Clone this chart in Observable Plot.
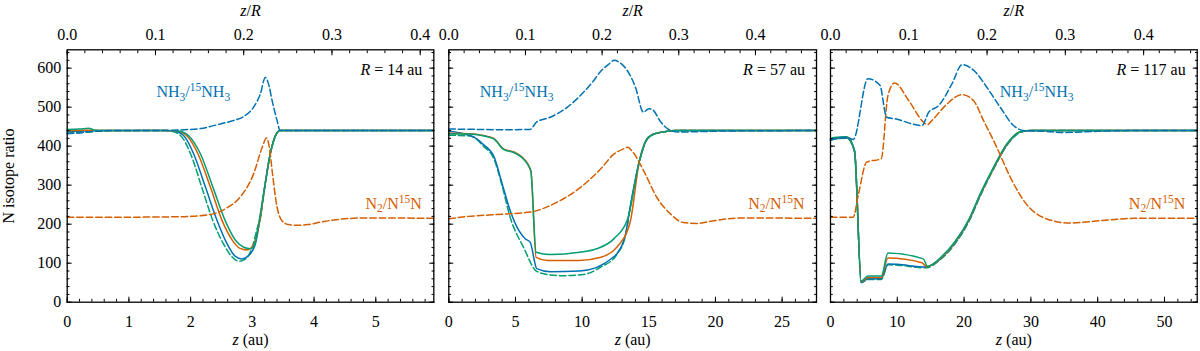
<!DOCTYPE html>
<html><head><meta charset="utf-8">
<script src="https://cdn.jsdelivr.net/npm/d3@7"></script>
<script src="https://cdn.jsdelivr.net/npm/@observablehq/plot@0.6"></script>
<style>
body{margin:0;background:#fff;}
#chart{position:relative;width:1200px;height:351px;}
#chart svg{position:absolute;top:0;overflow:visible;background:transparent !important;font-size:16px !important;}
#chart svg, #chart svg text, #chart svg tspan, #chart svg g{font-family:"Liberation Serif",serif !important;}
</style></head><body><div id="chart"></div>
<script>
const BLUE = "#0072B2", ORANGE = "#D55E00", GREEN = "#009E73";

// panel metadata
const panelRadiusLabel = [14, 57, 117];
const panelRadiusScale = [14.3, 57.5, 117.2];
const panelZMax = [5.94, 27.58, 54.9];
const yMax = 647;
const yMajorTicks = [0, 100, 200, 300, 400, 500, 600];
const xMajorTicks = [[0,1,2,3,4,5],[0,5,10,15,20,25],[0,10,20,30,40,50]];
const xMinorStep = [0.2, 1, 2];
const zrMajorTicks = [0, 0.1, 0.2, 0.3, 0.4, 0.5];
const yLabel = "N isotope ratio";
const nh3Label = "NH_{3}/^{15}NH_{3}";
const n2Label = "N_{2}/N^{15}N";

// ---- Panel 1 (R = 14 au) ----
const p1NH3 = [[0,432],[0.2,434],[0.45,438],[0.8,440],[1.5,440],[1.9,442],[2.16,445],[2.48,457],[2.7,466],[2.86,476],[3.02,500],[3.13,534],[3.21,576],[3.27,555],[3.32,517],[3.4,466],[3.45,440],[4.0,440],[5.94,440]];
const p1N2 = [[0,218],[1.0,218],[1.8,219],[2.32,225],[2.59,242],[2.8,269],[3.02,329],[3.16,397],[3.23,421],[3.28,392],[3.32,338],[3.4,244],[3.48,209],[3.58,199],[3.7,197],[3.9,199],[4.1,205],[4.32,211],[4.85,216],[5.94,215]];
const p1Blue = [[0,437],[0.3,439],[0.6,440],[1.6,440],[1.75,438],[1.9,425],[2.05,380],[2.24,295],[2.43,209],[2.59,150],[2.72,118],[2.83,111],[2.93,118],[3.05,150],[3.12,209],[3.2,295],[3.29,380],[3.37,425],[3.45,440],[5.94,440]];
const p1Orange = [[0,440],[0.3,441],[0.6,440],[1.6,440],[1.8,438],[1.95,425],[2.12,380],[2.32,295],[2.51,209],[2.68,158],[2.8,138],[2.91,134],[3.0,142],[3.06,165],[3.12,209],[3.2,295],[3.29,380],[3.37,425],[3.45,440],[5.94,440]];
const p1Green = [[0,443],[0.2,444],[0.35,446],[0.45,441],[0.6,440],[1.6,440],[1.82,438],[1.98,425],[2.16,380],[2.36,295],[2.56,209],[2.73,158],[2.86,141],[2.97,137],[3.04,150],[3.1,200],[3.2,295],[3.29,380],[3.37,425],[3.45,440],[5.94,440]];
const p1GreenDash = [[0,433],[0.3,436],[0.6,439],[1.6,440],[1.7,438],[1.85,425],[2.0,380],[2.18,295],[2.36,209],[2.53,150],[2.66,118],[2.78,105],[2.88,110],[3.0,142],[3.08,190],[3.13,215],[3.2,295],[3.29,380],[3.37,425],[3.45,440],[5.94,440]];

// ---- Panel 2 (R = 57 au) ----
const p2NH3 = [[0,444],[2,443],[4,442],[6.1,443],[6.6,462],[7.6,474],[8.9,500],[10.1,538],[10.8,565],[11.4,592],[12.0,610],[12.4,620],[12.9,612],[13.3,598],[13.7,575],[14.0,551],[14.6,487],[15.0,496],[15.3,493],[15.9,462],[16.4,445],[17.2,436],[18.5,437],[21,439],[27.58,440]];
const p2N2 = [[0,214],[1.5,220],[3.2,224],[6.1,231],[8.1,256],[9.9,295],[11.4,342],[12.4,380],[13.1,393],[13.4,397],[13.8,385],[14.6,338],[15.6,269],[16.6,227],[17.6,204],[18.6,202],[19.9,209],[21.9,216],[27.58,215]];
const p2Blue = [[0,438],[1.1,432],[1.9,423],[2.6,404],[3.4,372],[4.0,304],[4.6,235],[5.25,184],[5.75,162],[6.1,154],[6.6,86],[7.6,78],[9.8,80],[11.0,88],[11.4,94],[12.2,112],[12.6,124],[13.26,175],[13.6,244],[14.3,363],[14.8,415],[15.3,430],[16,436],[17,440],[27.58,440]];
const p2Orange = [[0,433],[1.5,432],[2.9,425],[3.4,419],[4.1,393],[4.9,385],[5.5,372],[6.15,338],[6.55,115],[7.4,107],[9.8,107],[11.4,115],[12.6,141],[13.6,205],[14.3,363],[14.8,415],[15.3,430],[16,436],[17,440],[27.58,440]];
const p2Green = [[0,431],[1.5,431],[2.9,424],[3.4,418],[4.1,392],[4.9,383],[5.5,370],[6.15,336],[6.55,128],[7.6,122],[9.8,128],[11.1,137],[12.4,163],[13.4,212],[14.3,363],[14.8,415],[15.3,430],[16,436],[17,440],[27.58,440]];
const p2GreenDash = [[0,428],[1.6,426],[2.6,400],[3.4,366],[4.0,298],[4.6,218],[5.6,141],[6.6,79],[7.6,70],[8.5,68],[10.1,71],[11.4,90],[12.6,122],[13.26,172],[13.6,240],[14.3,360],[14.8,413],[15.3,429],[16,436],[17,440],[27.58,440]];

// ---- Panel 3 (R = 117 au) ----
const p3NH3 = [[0,416],[0.45,419],[2.45,423],[3.4,417],[5.6,573],[7.4,556],[8.4,474],[9.7,470],[13.7,453],[14.7,487],[16.2,504],[18.2,560],[19.7,609],[21.7,590],[23.4,551],[25.4,500],[27.4,453],[28.9,440],[32,438],[35,435],[40,438],[45,440],[54.9,440]];
const p3N2 = [[0,218],[3.4,218],[4.2,278],[5.4,359],[7.6,368],[8.6,530],[9.6,562],[11.7,517],[13.9,462],[14.5,455],[15.2,466],[17.2,504],[19.7,532],[21.4,517],[22.9,466],[24.9,397],[26.9,321],[29.3,252],[32.3,214],[35.8,203],[40.4,209],[45.4,215],[54.9,215]];
const p3Blue = [[0,415],[0.5,419],[2.45,421],[3.6,387],[4.6,51],[5.6,60],[7.6,60],[8.6,98],[10,97],[14.2,90],[16.7,115],[18.7,154],[20.7,209],[22.5,278],[24.5,346],[26.5,406],[28.4,436],[30,440],[54.9,440]];
const p3Orange = [[0,417],[0.5,421],[2.45,423],[3.6,388],[4.6,53],[5.6,63],[7.6,63],[8.6,113],[13.7,101],[14.4,91],[16.7,116],[18.7,155],[20.7,210],[22.5,279],[24.5,347],[26.5,407],[28.4,437],[30,440],[54.9,440]];
const p3Green = [[0,418],[0.5,422],[2.45,424],[3.6,389],[4.6,54],[5.6,67],[7.6,67],[8.6,126],[13.9,111],[14.5,92],[16.7,118],[18.7,157],[20.7,212],[22.5,281],[24.5,349],[26.5,408],[28.4,437],[30,440],[54.9,440]];
const p3GreenDash = [[0,414],[0.5,418],[2.45,420],[3.6,385],[4.6,50],[5.6,58],[7.6,58],[8.6,96],[10,95],[14.2,88],[16.7,113],[18.7,151],[20.7,206],[22.5,275],[24.5,344],[26.5,404],[28.4,435],[30,440],[54.9,440]];

const panels = [
  {left: 0,   width: 440, ml: 66.7, mr: 6.7, nh3Dx: 89.3, series: [p1GreenDash, p1Blue, p1Orange, p1Green, p1N2, p1NH3]},
  {left: 440, width: 380, ml: 8.3,  mr: 4,   nh3Dx: 31,   series: [p2GreenDash, p2Blue, p2Orange, p2Green, p2N2, p2NH3]},
  {left: 820, width: 380, ml: 10,   mr: 3.3, nh3Dx: 169.3,series: [p3GreenDash, p3Blue, p3Orange, p3Green, p3N2, p3NH3]}
];
const seriesStyle = [
  {color: GREEN, dash: true}, {color: BLUE, dash: false}, {color: ORANGE, dash: false},
  {color: GREEN, dash: false}, {color: ORANGE, dash: true}, {color: BLUE, dash: true}
];

function richify(svg) {
  d3.select(svg).selectAll("text").each(function() {
    const s = this.textContent;
    if (!/[_^*]/.test(s)) return;
    const parts = s.split(/(_\{[^}]*\}|\^\{[^}]*\}|\*[^*]*\*)/).filter(p => p);
    const sel = d3.select(this);
    sel.text(null);
    let shift = 0;
    for (const p of parts) {
      let t = p, target = 0, size = null, italic = false;
      if (p.startsWith("_{")) { t = p.slice(2, -1); target = 3.6; size = "11.5px"; }
      else if (p.startsWith("^{")) { t = p.slice(2, -1); target = -6.2; size = "11.5px"; }
      else if (p.startsWith("*")) { t = p.slice(1, -1); italic = true; }
      const ts = sel.append("tspan").text(t).attr("dy", target - shift);
      shift = target;
      if (size) ts.attr("font-size", size);
      if (italic) ts.attr("font-style", "italic");
    }
  });
}

const chart = document.getElementById("chart");
panels.forEach((P, i) => {
  const R = panelRadiusScale[i], zmax = panelZMax[i];
  const inDom = z => z >= -1e-9 && z <= zmax + 1e-9;
  const xMinor = d3.range(0, zmax + 1e-9, xMinorStep[i]);
  const zrMinor = d3.range(0, 26).map(k => k * 0.02 * R).filter(inDom);
  const zrMajor = zrMajorTicks.map(t => t * R).filter(inDom);
  const yMinor = d3.range(0, yMax, 20);
  const tickAttr = {stroke: "black", strokeWidth: 1, fill: "none", label: null, tickFormat: () => ""};
  const marks = [];
  P.series.forEach((data, k) => {
    const st = seriesStyle[k];
    marks.push(Plot.line(data, {x: d => d[0], y: d => d[1], stroke: st.color, strokeWidth: 1.5,
      strokeDasharray: st.dash ? "6.5,3" : null, curve: "monotone-x"}));
  });
  marks.push(Plot.frame({stroke: "black", strokeWidth: 1.3}));
  // inward ticks
  marks.push(Plot.axisY(yMajorTicks, {...tickAttr, anchor: "left", tickSize: 5, dx: 5}));
  marks.push(Plot.axisY(yMinor, {...tickAttr, anchor: "left", tickSize: 2.8, dx: 2.8}));
  marks.push(Plot.axisY(yMajorTicks, {...tickAttr, anchor: "right", tickSize: 5, dx: -5}));
  marks.push(Plot.axisY(yMinor, {...tickAttr, anchor: "right", tickSize: 2.8, dx: -2.8}));
  marks.push(Plot.axisX(xMajorTicks[i], {...tickAttr, anchor: "bottom", tickSize: 5, dy: -5}));
  marks.push(Plot.axisX(xMinor, {...tickAttr, anchor: "bottom", tickSize: 2.8, dy: -2.8}));
  marks.push(Plot.axisX(zrMajor, {...tickAttr, anchor: "top", tickSize: 5, dy: 5}));
  marks.push(Plot.axisX(zrMinor, {...tickAttr, anchor: "top", tickSize: 2.8, dy: 2.8}));
  // tick labels
  marks.push(Plot.axisX(xMajorTicks[i], {anchor: "bottom", tickSize: 0, tickPadding: 13.3, label: null, tickFormat: d => String(d)}));
  marks.push(Plot.axisX(zrMajor, {anchor: "top", tickSize: 0, tickPadding: 10.3, label: null, tickFormat: d => d3.format(".1f")(d / R)}));
  if (i === 0) {
    marks.push(Plot.axisY(yMajorTicks, {anchor: "left", tickSize: 0, tickPadding: 6, label: null, tickFormat: d => String(d)}));
    marks.push(Plot.text([yLabel], {text: d => d, frameAnchor: "left", rotate: -90, dx: -58, textAnchor: "middle", lineAnchor: "middle", fill: "black"}));
  }
  // axis titles
  marks.push(Plot.text(["*z*/*R*"], {text: d => d, frameAnchor: "top", textAnchor: "middle", lineAnchor: "bottom", dy: -34.3, fill: "black"}));
  marks.push(Plot.text(["*z* (au)"], {text: d => d, frameAnchor: "bottom", textAnchor: "middle", lineAnchor: "bottom", dy: 42.5, fill: "black"}));
  // annotations
  marks.push(Plot.text([`*R* = ${panelRadiusLabel[i]} au`], {text: d => d, frameAnchor: "top-right", textAnchor: "end", lineAnchor: "bottom", dx: -11.5, dy: 24.7, fill: "black"}));
  marks.push(Plot.text([nh3Label], {text: d => d, frameAnchor: "top-left", textAnchor: "start", lineAnchor: "bottom", dx: P.nh3Dx, dy: 47.4, fill: BLUE}));
  marks.push(Plot.text([n2Label], {text: d => d, frameAnchor: "top-right", textAnchor: "end", lineAnchor: "bottom", dx: -12, dy: 159, fill: ORANGE}));

  const svg = Plot.plot({
    width: P.width, height: 351,
    marginLeft: P.ml, marginRight: P.mr, marginTop: 49.3, marginBottom: 49.3,
    x: {domain: [0, zmax]},
    y: {domain: [0, yMax]},
    style: {fontFamily: "Liberation Serif", fontSize: "16px", background: "transparent", overflow: "visible", color: "black"},
    marks
  });
  svg.style.left = P.left + "px";
  richify(svg);
  chart.appendChild(svg);
});
</script>
</body></html>
